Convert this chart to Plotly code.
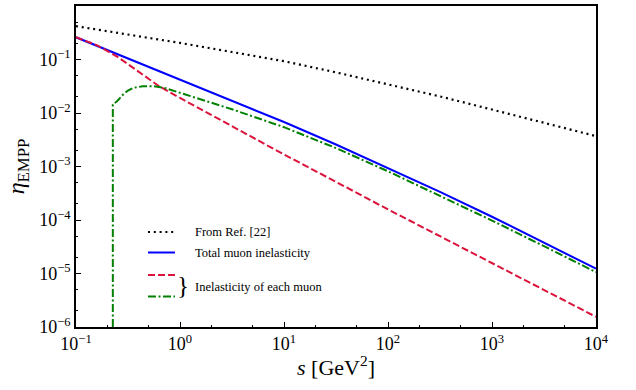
import plotly.graph_objects as go

# ---------------- data ----------------
s_ref = [0.1, 0.316, 1, 3.16, 10, 31.6, 100, 316, 1000, 3162, 10000]
eta_ref = [0.42, 0.295, 0.204, 0.138, 0.093, 0.0575, 0.0347, 0.0204, 0.0116, 0.0066, 0.0037]

s_total = [0.1, 1, 3.16, 10, 31.6, 100, 316, 1000, 3162, 10000]
eta_total = [0.26, 0.0421, 0.0170, 0.00678, 0.002576, 9.46e-4, 3.36e-4, 1.15e-4, 3.81e-5, 1.23e-5]

s_each1 = [0.1, 0.158, 0.251, 0.398, 0.631, 1, 3.16, 10, 100, 1000, 10000]
eta_each1 = [0.26, 0.186, 0.112, 0.0603, 0.0316, 0.0191, 0.00562, 0.00168, 1.58e-4, 1.55e-5, 1.55e-6]

s_each2 = [0.226, 0.226, 0.251, 0.282, 0.316, 0.355, 0.437, 0.562, 0.708, 1, 3.16, 10, 31.6,
           100, 316, 1000, 3162, 10000]
eta_each2 = [1e-6, 0.0144, 0.0170, 0.0219, 0.0263, 0.0295, 0.0316, 0.0316, 0.0295, 0.0237, 0.01175,
             0.00543, 0.00221, 8.13e-4, 2.85e-4, 9.77e-5, 3.24e-5, 1.06e-5]

legend_labels = ["From Ref. [22]", "Total muon inelasticity", "Inelasticity of each muon"]

x_ticks = [0.1, 1, 10, 100, 1000, 10000]
x_ticktext = ["10<sup>−1</sup>", "10<sup>0</sup>", "10<sup>1</sup>", "10<sup>2</sup>",
              "10<sup>3</sup>", "10<sup>4</sup>"]
y_ticks = [1e-6, 1e-5, 1e-4, 1e-3, 1e-2, 1e-1, 1]
y_ticktext = ["10<sup>−6</sup>", "10<sup>−5</sup>", "10<sup>−4</sup>", "10<sup>−3</sup>",
              "10<sup>−2</sup>", "10<sup>−1</sup>", "10<sup>0</sup>"]

# ---------------- styling ----------------
FONT = "Liberation Serif"
C_REF = "black"
C_TOT = "#0000ff"
C_E1 = "#dc143c"
C_E2 = "#008000"
D_REF = "2px,3.8px"
D_E1 = "7px,3px"
D_E2 = "8px,2.5px,2px,2.5px"

fig = go.Figure()
fig.add_trace(go.Scatter(x=s_ref, y=eta_ref, mode="lines",
                         line=dict(color=C_REF, width=2.2, dash=D_REF)))
fig.add_trace(go.Scatter(x=s_total, y=eta_total, mode="lines",
                         line=dict(color=C_TOT, width=2)))
fig.add_trace(go.Scatter(x=s_each1, y=eta_each1, mode="lines",
                         line=dict(color=C_E1, width=2, dash=D_E1)))
fig.add_trace(go.Scatter(x=s_each2, y=eta_each2, mode="lines",
                         line=dict(color=C_E2, width=2, dash=D_E2)))

# ---------------- manual legend ----------------
L, T, W, H = 76, 6, 520, 321  # plot area in px


def px2paper(px, py):
    return (px - L) / W, (T + H - py) / H


rows = [(232, C_REF, D_REF, 2.2), (252.5, C_TOT, "solid", 2),
        (275, C_E1, D_E1, 2), (296.5, C_E2, D_E2, 2)]
for py, col, dash, w in rows:
    x0, y0 = px2paper(148, py)
    x1, _ = px2paper(175, py)
    fig.add_shape(type="line", xref="paper", yref="paper", x0=x0, x1=x1, y0=y0, y1=y0,
                  line=dict(color=col, width=w, dash=dash))

for py, txt in [(232, legend_labels[0]), (252.5, legend_labels[1]), (287, legend_labels[2])]:
    xx, yy = px2paper(193, py)
    fig.add_annotation(x=xx, y=yy, xref="paper", yref="paper", text=txt, showarrow=False,
                       xanchor="left", yanchor="middle", font=dict(family=FONT, size=12.5, color="black"))

bx, by = px2paper(183, 285.5)
fig.add_annotation(x=bx, y=by, xref="paper", yref="paper", text="}", showarrow=False,
                   xanchor="center", yanchor="middle", font=dict(family=FONT, size=25, color="black"))

axis_common = dict(
    showline=True, linecolor="black", linewidth=1.6, mirror=True,
    ticks="inside", ticklen=5, tickwidth=1.2, tickcolor="black",
    showgrid=False, zeroline=False, automargin=False,
    tickfont=dict(family=FONT, size=18, color="black"),
    minor=dict(ticks="inside", ticklen=2.5, tickwidth=0.8, tickcolor="black", showgrid=False),
)

fig.update_xaxes(type="log", range=[-1, 4], tickmode="array", tickvals=x_ticks, ticktext=x_ticktext,
                 **axis_common,
                 title=dict(text="<i>s</i> [GeV<sup>2</sup>]",
                            font=dict(family=FONT, size=22, color="black"), standoff=6))
fig.update_yaxes(type="log", range=[-6, 0], tickmode="array", tickvals=y_ticks, ticktext=y_ticktext,
                 **axis_common,
                 title=dict(text="<i>η</i><sub>EMPP</sub>",
                            font=dict(family=FONT, size=24, color="black"), standoff=8))

fig.update_layout(
    width=636, height=390,
    margin=dict(l=L, r=636 - L - W, t=T, b=390 - T - H),
    plot_bgcolor="white", paper_bgcolor="white",
    showlegend=False,
)

fig.write_html("out.html", config={"displayModeBar": False},
               post_script="document.body.style.margin='0px';")
